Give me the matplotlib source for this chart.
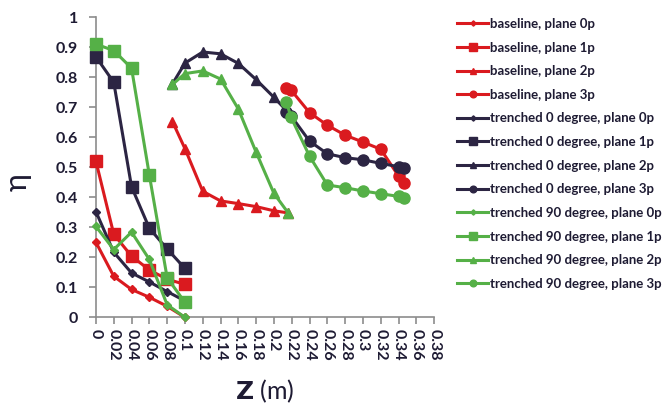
import numpy as np
import matplotlib.pyplot as plt

# x positions (m) for each plane
z_01 = [0.0, 0.02, 0.04, 0.06, 0.08, 0.10]
z_2 = [0.086, 0.10, 0.12, 0.14, 0.16, 0.18, 0.20, 0.216]
z_3 = [0.214, 0.219, 0.24, 0.26, 0.28, 0.30, 0.32, 0.34, 0.346]

# baseline
base_0p = [0.25, 0.137, 0.093, 0.067, 0.037, 0.0]
base_1p = [0.52, 0.277, 0.204, 0.158, 0.127, 0.11]
base_2p = [0.652, 0.562, 0.42, 0.388, 0.379, 0.369, 0.355, 0.348]
base_3p = [0.763, 0.758, 0.682, 0.64, 0.607, 0.584, 0.56, 0.471, 0.448]

# trenched 0 degree
t0_0p = [0.352, 0.217, 0.148, 0.118, 0.086, 0.055]
t0_1p = [0.868, 0.783, 0.435, 0.297, 0.228, 0.163]
t0_2p = [0.778, 0.847, 0.884, 0.878, 0.846, 0.792, 0.733, 0.683]
t0_3p = [0.684, 0.672, 0.587, 0.545, 0.532, 0.525, 0.513, 0.502, 0.498]

# trenched 90 degree
t90_0p = [0.303, 0.226, 0.284, 0.193, 0.042, 0.0]
t90_1p = [0.91, 0.889, 0.83, 0.474, 0.132, 0.05]
t90_2p = [0.776, 0.812, 0.821, 0.794, 0.694, 0.55, 0.413, 0.348]
t90_3p = [0.719, 0.668, 0.537, 0.441, 0.432, 0.421, 0.412, 0.403, 0.398]

red = '#DA1A1F'
navy = '#2C2543'
green = '#55B047'
txt = '#1E1B33'

plt.rcParams['font.family'] = ['Lato', 'DejaVu Sans']

fig = plt.figure(figsize=(6.71, 4.09), dpi=100)
ax = fig.add_axes([0.143, 0.224, 0.504, 0.734])

groups = [('baseline', red, [base_0p, base_1p, base_2p, base_3p]),
          ('trenched 0 degree', navy, [t0_0p, t0_1p, t0_2p, t0_3p]),
          ('trenched 90 degree', green, [t90_0p, t90_1p, t90_2p, t90_3p])]
markers = [('D', 4.5), ('s', 8.5), ('^', 7.5), ('o', 8)]
xs = [z_01, z_01, z_2, z_3]

for name, col, series in groups:
    for i, vals in enumerate(series):
        m, ms = markers[i]
        ax.plot(xs[i], vals, color=col, lw=2.2, marker=m, markersize=ms,
                label=f'{name}, plane {i}p', clip_on=False, zorder=3)

ax.set_xlim(0, 0.38)
ax.set_ylim(0, 1)
xt = np.arange(0, 0.381, 0.02)
ax.set_xticks(xt)
ax.set_xticklabels([f'{round(v, 2):g}' for v in xt], rotation=-90,
                   fontsize=11.5, fontweight='bold', color=txt)
yt = np.arange(0, 1.01, 0.1)
ax.set_yticks(yt)
ax.set_yticklabels([f'{round(v, 1):g}' for v in yt],
                   fontsize=11.5, fontweight='bold', color=txt)
for s in ['top', 'right']:
    ax.spines[s].set_visible(False)
for s in ['left', 'bottom']:
    ax.spines[s].set_color('#8C8C8C')
    ax.spines[s].set_linewidth(1.2)
ax.tick_params(axis='both', direction='out', color='#8C8C8C', length=5,
               width=1.2)
ax.tick_params(axis='y', pad=8)

ax.set_ylabel('η', fontsize=22, color=txt)
ax.yaxis.set_label_coords(-0.19, 0.45)
ax.set_xlabel(r'$\mathbf{Z}$ (m)', fontsize=18, color=txt, labelpad=12)

ax.legend(loc='upper left', bbox_to_anchor=(0.663, 0.985),
          bbox_transform=fig.transFigure, frameon=False,
          handlelength=2.4, handletextpad=0.1, labelspacing=0.88,
          markerscale=0.6, prop={'weight': 'bold', 'size': 9.5},
          labelcolor=txt)

fig.savefig('out.png', dpi=100)
